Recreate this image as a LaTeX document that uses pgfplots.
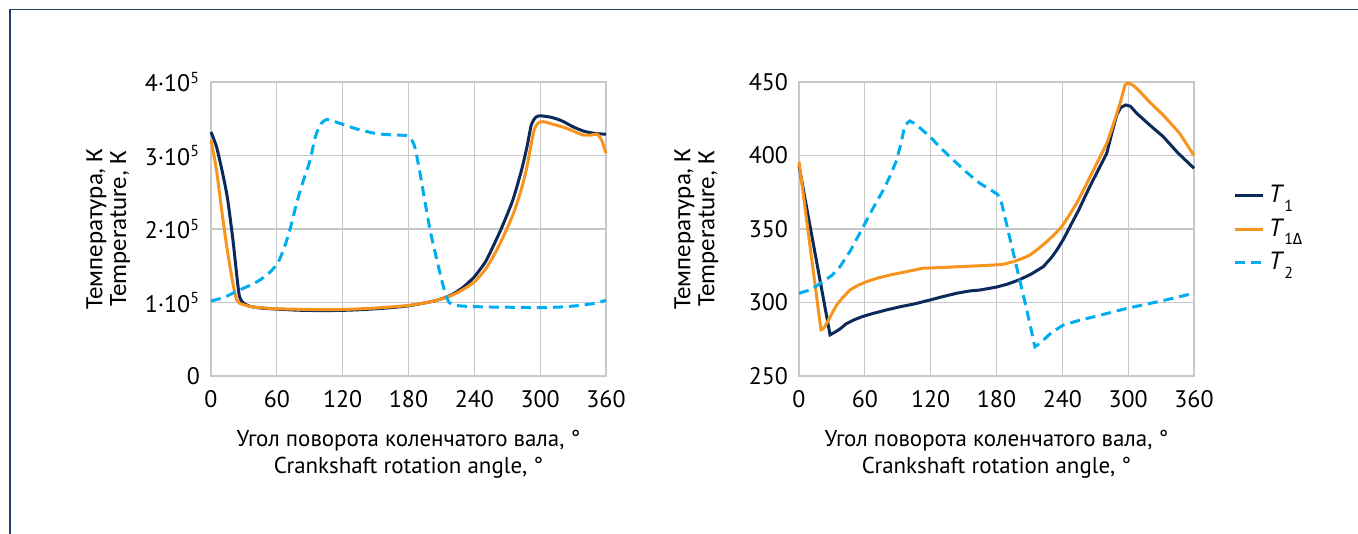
\documentclass[border=0pt]{standalone}
\usepackage{fontspec}
\setmainfont{PT Sans}
\newfontfamily\grk{Fira Sans}
\newfontfamily\lab{Carlito}
\usepackage{pgfplots}
\pgfplotsset{compat=1.18}
\definecolor{navy}{HTML}{0B2A5B}
\definecolor{orng}{HTML}{F7941D}
\definecolor{lblue}{HTML}{00AEEF}
\definecolor{gridc}{HTML}{C8C8C8}
\definecolor{frame}{HTML}{243F6B}
\pgfplotsset{
  myax/.style={
    scale only axis, width=197.5bp, height=147bp, anchor=south west,
    xmin=0, xmax=360, xtick={0,60,...,360},
    /pgf/number format/assume math mode=true,
    grid=major, major grid style={gridc, line width=0.6bp},
    axis line style={gridc, line width=0.6bp},
    major tick length=0pt,
    tick label style={font=\fontsize{12}{13}\selectfont},
    xticklabel style={yshift=-3.5bp},
    yticklabel style={xshift=-2bp},
    xlabel={Угол поворота коленчатого вала, °\\Crankshaft rotation angle, °},
    xlabel style={font=\fontsize{11.5}{13.5}\selectfont, align=center, at={(axis description cs:0.5,-0.265)}, anchor=center},
    ylabel={Температура, К\\Temperature, К},
    ylabel style={font=\lab\fontsize{12.5}{12}\selectfont, align=center, at={(axis description cs:-0.26,0.5)}, anchor=center, rotate=0},
    every axis plot/.append style={line width=1.5bp},
    clip=false,
  },
  s1/.style={navy},
  s2/.style={orng},
  s3/.style={lblue, dash pattern=on 5bp off 3bp},
}
\begin{document}
\begin{tikzpicture}
\useasboundingbox (0,0) rectangle (679bp,267bp);
\draw[frame, line width=0.8bp] (5bp,0) -- (5bp,262.3bp) -- (679bp,262.3bp);
% left chart
\begin{axis}[myax, at={(105.5bp,79bp)},
  ymin=0, ymax=400000, ytick={0,100000,200000,300000,400000},
  yticklabels={0,1·10\textsuperscript{5},2·10\textsuperscript{5},3·10\textsuperscript{5},4·10\textsuperscript{5}},
  scaled y ticks=false]
\addplot[s1, smooth, tension=0.4] coordinates {(0,332000) (5,312000) (10,280000) (15,242000) (20,185000) (24,130000) (26,108000) (29,100000) (35,95000) (45,92500) (60,91000) (80,89500) (100,89000) (120,89300) (140,90500) (160,92500) (180,95500) (200,101000) (210,105000) (220,111000) (230,121000) (240,135000) (250,155000) (257,176000) (265,202000) (275,239000) (283,280000) (288,312000) (292,342000) (296,352000) (300,354000) (310,352000) (320,347000) (330,339000) (340,333000) (350,330000) (360,329000)};
\addplot[s2, smooth, tension=0.4] coordinates {(0,321000) (5,280000) (9.7,226000) (14,180000) (17.3,149000) (21,118000) (23.5,103000) (26,99000) (32,96000) (40,93500) (60,91500) (90,90500) (120,90500) (150,92500) (180,96000) (200,101000) (210,105000) (220,110000) (230,118000) (240,128000) (250,145000) (257,162000) (265,185000) (275.6,221000) (283,255000) (288,285000) (294,332000) (298,344000) (303,346000) (313,342000) (324,337000) (339,328000) (347,328000) (352,329000) (356,321000) (360,303000)};
\addplot[s3, smooth, tension=0.4] coordinates {(0,102000) (12,107000) (23,115000) (35,123000) (45,131000) (55,143000) (62,157000) (68,180000) (73,205000) (78,235000) (84,265000) (90,292000) (95,325000) (100,343000) (106,349000) (115,345000) (133,336000) (150,330000) (165,328000) (178,327000) (183,321000) (186,310000) (190.5,276000) (199.6,199000) (208.7,140000) (213,115000) (217,100000) (222,96500) (230,95000) (250,94000) (275,93500) (300,93000) (320,94000) (336,96000) (350,99000) (360,103000)};
\end{axis}
% right chart
\begin{axis}[myax, at={(399.5bp,79bp)},
  ymin=250, ymax=450, ytick={250,300,...,450},
  legend style={draw=none, fill=none, at={(axis description cs:1.1,0.5)}, anchor=west,
    font=\fontsize{12.5}{14}\selectfont, row sep=2.5bp, inner sep=0pt},
  legend cell align=left,
  legend image code/.code={\draw[#1] (0bp,0bp) -- (14bp,0bp);}]
\addplot[s1] coordinates {(0,392.9) (28.3,278) (32,279.5) (37.4,282) (43,285.5) (49.5,288) (58,290.5) (67.7,292.6) (80,295) (92,297.1) (105,299) (119.4,301.7) (130,303.8) (143.8,306.3) (155,307.8) (165,308.5) (180,310.5) (190,312.5) (201,315.5) (212,319.5) (222.7,324.4) (230,330.5) (235,335.7) (241,343) (247,351.6) (255,363) (265,378.8) (273,390.5) (280.5,401.5) (285,415) (289.6,427.5) (293,432.5) (297.8,434.4) (302,433.5) (307.8,428.7) (320,420.5) (332,412.8) (345,402) (360,391.3)};
\addlegendentry{\textit{T}\raisebox{-0.7ex}{\fontsize{8}{8}\selectfont 1}}
\addplot[s2] coordinates {(0,395.8) (20,281.5) (22,282) (25,285.5) (30,292.5) (34.3,298.3) (40,303.5) (46.5,308.5) (54,311.8) (61.7,314.2) (72,316.7) (83,318.7) (98,321) (113,323.3) (130,323.8) (150,324.5) (170,325.2) (185,325.8) (195.4,327.8) (203,329.8) (210.6,332.3) (218,336.5) (225.8,341.4) (233,346.5) (239.5,351.6) (246,359) (253,367.5) (260,377.5) (268.3,390) (275,400) (280.5,408.3) (286,420) (292.6,435.5) (297.2,448) (300,449.5) (305,447.5) (310.8,443.4) (320,436) (332,427.5) (347,415) (360,399.9)};
\addlegendentry{\textit{T}\raisebox{-0.7ex}{\fontsize{8}{8}\selectfont 1{\grk Δ}}}
\addplot[s3] coordinates {(0,306.3) (10,308.5) (22,314.2) (30,318.5) (37.4,324.4) (47,335.5) (58.6,351.6) (67,363.5) (76.8,376.5) (83,386) (89,396.9) (93,408.5) (96.6,420.7) (101,423.5) (106,421.5) (119.4,412.8) (130,404.5) (140.7,396.9) (152,389) (165,381) (175,376.5) (181,373.5) (184.7,367.5) (195.4,333.5) (207.6,294.9) (215,269.9) (219.6,272.2) (230,279.5) (241,284.7) (256,288) (270,290.5) (298.7,296) (330,301) (360,306.3)};
\addlegendentry{\textit{T}\raisebox{-0.7ex}{\fontsize{8}{8}\selectfont 2}}
\end{axis}
\end{tikzpicture}
\end{document}
